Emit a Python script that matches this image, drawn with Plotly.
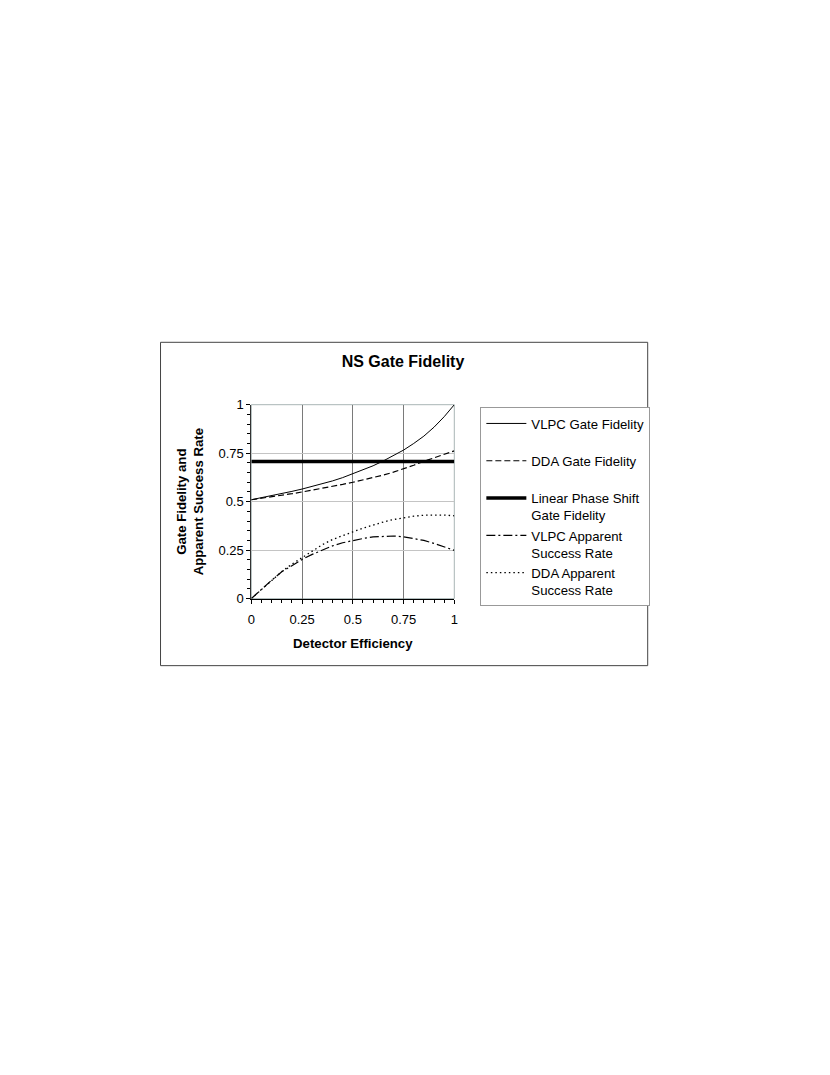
import plotly.graph_objects as go

# detector efficiency samples
efficiency = [0, .05, .1, .15, .2, .25, .3, .35, .4, .45, .5,
              .55, .6, .65, .7, .75, .8, .85, .9, .95, 1]

vlpc_fidelity = [0.510, 0.520, 0.531, 0.542, 0.553, 0.565, 0.578, 0.592, 0.607, 0.624, 0.643,
                 0.663, 0.685, 0.710, 0.737, 0.766, 0.800, 0.838, 0.884, 0.938, 1.000]
dda_fidelity = [0.510, 0.517, 0.525, 0.533, 0.541, 0.550, 0.559, 0.569, 0.578, 0.589, 0.600,
                0.612, 0.624, 0.637, 0.652, 0.668, 0.688, 0.708, 0.726, 0.744, 0.762]
linear_x = [0, 1]
linear_fidelity = [0.707, 0.707]
vlpc_success = [0, 0.048, 0.095, 0.138, 0.172, 0.202, 0.228, 0.252, 0.272, 0.288, 0.300,
                0.310, 0.318, 0.322, 0.323, 0.319, 0.311, 0.300, 0.285, 0.268, 0.249]
dda_success = [0, 0.048, 0.095, 0.140, 0.178, 0.210, 0.245, 0.278, 0.305, 0.326, 0.344,
               0.363, 0.380, 0.395, 0.408, 0.418, 0.425, 0.430, 0.432, 0.431, 0.427]

tick_vals = [0, 0.25, 0.5, 0.75, 1]
tick_text = ['0', '0.25', '0.5', '0.75', '1']

font_family = 'Arial, Liberation Sans, sans-serif'
OFF = 8  # body margin of the html page
W, H = 830 - 2 * OFF, 1075 - 2 * OFF


def px(x):
    return (x - OFF) / W


def py(y):
    return 1 - (y - OFF) / H


fig = go.Figure()
fig.add_trace(go.Scatter(x=efficiency, y=vlpc_fidelity, mode='lines', name='VLPC Gate Fidelity<br>&nbsp;',
                         line=dict(color='black', width=1)))
fig.add_trace(go.Scatter(x=efficiency, y=dda_fidelity, mode='lines', name='DDA Gate Fidelity<br>&nbsp;',
                         line=dict(color='black', width=1.2, dash='6px,3px')))
fig.add_trace(go.Scatter(x=linear_x, y=linear_fidelity, mode='lines',
                         name='Linear Phase Shift<br>Gate Fidelity',
                         line=dict(color='black', width=3.5)))
fig.add_trace(go.Scatter(x=efficiency, y=vlpc_success, mode='lines',
                         name='VLPC Apparent<br>Success Rate',
                         line=dict(color='black', width=1.2, dash='9px,3px,2px,3px')))
fig.add_trace(go.Scatter(x=efficiency, y=dda_success, mode='lines',
                         name='DDA Apparent<br>Success Rate',
                         line=dict(color='black', width=1.3, dash='1.5px,3px')))

axis_common = dict(
    range=[0, 1], tickvals=tick_vals, ticktext=tick_text,
    ticks='outside', ticklen=4, tickcolor='black',
    minor=dict(dtick=0.05, ticks='outside', ticklen=3, tickcolor='black', showgrid=False),
    showline=True, linewidth=1,
    zeroline=False, tickfont=dict(size=13, color='black'),
    title_font=dict(size=13.2, color='black'),
)

fig.update_layout(
    width=W, height=H,
    margin=dict(l=0, r=0, t=0, b=0),
    paper_bgcolor='white', plot_bgcolor='white',
    font=dict(family=font_family, color='black'),
    title=dict(text='<b>NS Gate Fidelity</b>', font=dict(size=16, color='black'),
               x=px(403), xanchor='center', y=py(361), yanchor='middle'),
    xaxis=dict(domain=[px(249.7), px(454.7)], gridcolor='#7a7a7a', gridwidth=1, linecolor='black',
               ticklabelstandoff=5,
               title=dict(text='<b>Detector Efficiency</b>', standoff=12), **axis_common),
    yaxis=dict(domain=[py(600), py(403.3)], gridcolor='#c4c4c4', gridwidth=1, linecolor='#333333',
               title=dict(text='<b>Gate Fidelity and<br>Apparent Success Rate</b>', standoff=11),
               **axis_common),
    legend=dict(x=px(481), y=py(406), xanchor='left', yanchor='top',
                bordercolor='#999999', borderwidth=1, bgcolor='white',
                font=dict(size=13.2, color='black'), valign='top',
                tracegroupgap=1, itemwidth=40),
    showlegend=True,
    shapes=[
        dict(type='rect', xref='paper', yref='paper',
             x0=px(158), x1=px(650), y0=py(668), y1=py(340),
             line=dict(color='#444444', width=1)),
        # light frame of the plot area (top and right edges)
        dict(type='rect', xref='x domain', yref='y domain', x0=0, x1=1, y0=0, y1=1,
             line=dict(color='#a9b6b6', width=1), layer='below'),
    ],
)

fig.write_html('out.html')
